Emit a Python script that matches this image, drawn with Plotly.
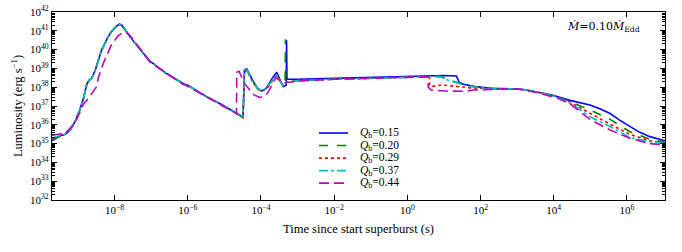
import numpy as np
import plotly.graph_objects as go

# ---- data (log10 of time [s] and log10 of luminosity [erg/s]) ----
labels = ["0.15", "0.20", "0.29", "0.37", "0.44"]
colors = ["#0000ff", "#008000", "#ff0000", "#00bfbf", "#bf00bf"]
dashes = ["solid", "dash", "dot", "dashdot", "10px,5px"]

x_tick_exp = [-8, -6, -4, -2, 0, 2, 4, 6]
x_tick_text = ["10<sup>−8</sup>", "10<sup>−6</sup>", "10<sup>−4</sup>", "10<sup>−2</sup>",
               "10<sup>0</sup>", "10<sup>2</sup>", "10<sup>4</sup>", "10<sup>6</sup>"]
y_tick_exp = list(range(32, 43))
y_tick_text = [f"10<sup>{e}</sup>" for e in y_tick_exp]

# shared rise/decay (Q_b = 0.15 ... 0.37)
early_logt = [-9.71, -9.5, -9.35, -9.2, -9.08, -8.95, -8.85, -8.76, -8.7, -8.62,
              -8.52, -8.44, -8.36, -8.2, -8.08, -7.95, -7.87, -7.8, -7.7, -7.58,
              -7.3, -7.04, -6.6, -6.13, -6.0, -5.49, -5.0, -4.5]
early_logL = [35.25, 35.4, 35.5, 35.75, 36.17, 36.8, 37.4, 38.15, 38.35, 38.5,
              38.95, 39.45, 39.95, 40.6, 40.98, 41.25, 41.35, 41.3, 41.0, 40.69,
              40.0, 39.4, 38.75, 38.2, 38.1, 37.5, 37.0, 36.42]
start_logL = [35.15, 35.2, 35.25, 35.3]

# second-burst region for each Q_b
mid_logt = {
    "0.15": [-4.49, -4.45, -4.39, -4.25, -4.1, -3.98, -3.85, -3.7, -3.57, -3.47, -3.39, -3.31, -3.30, -3.29, -3.25, -3.0],
    "0.20": [-4.49, -4.45, -4.39, -4.25, -4.1, -3.98, -3.85, -3.7, -3.57, -3.47, -3.39, -3.34, -3.33, -3.32, -3.25, -3.0],
    "0.29": [-4.49, -4.45, -4.39, -4.25, -4.1, -3.98, -3.85, -3.7, -3.57, -3.47, -3.39, -3.3, -3.0],
    "0.37": [-4.49, -4.45, -4.39, -4.25, -4.1, -3.98, -3.85, -3.7, -3.57, -3.47, -3.39, -3.3, -3.0],
    "0.44": [-4.67, -4.66, -4.6, -4.45, -4.2, -4.03, -3.85, -3.7, -3.6, -3.5, -3.4, -3.3, -3.0],
}
mid_logL = {
    "0.15": [36.4, 38.9, 38.97, 38.45, 37.95, 37.8, 37.95, 38.45, 38.8, 38.35, 38.03, 38.1, 40.5, 38.45, 38.42, 38.42],
    "0.20": [36.4, 38.85, 38.93, 38.4, 37.95, 37.8, 37.95, 38.35, 38.65, 38.3, 38.05, 38.1, 40.55, 38.3, 38.3, 38.35],
    "0.29": [36.4, 38.8, 38.9, 38.35, 37.9, 37.78, 37.9, 38.3, 38.62, 38.3, 38.1, 38.25, 38.35],
    "0.37": [36.45, 38.85, 38.92, 38.4, 37.92, 37.8, 37.95, 38.35, 38.65, 38.3, 38.08, 38.25, 38.35],
    "0.44": [36.6, 38.8, 38.85, 38.2, 37.6, 37.45, 37.6, 38.1, 38.5, 38.4, 38.2, 38.25, 38.33],
}

# early phase for Q_b = 0.44
m_early_logt = [-9.71, -9.35, -9.08, -8.95, -8.85, -8.7, -8.62, -8.5, -8.44, -8.3,
                -8.1, -7.9, -7.72, -7.6, -7.4, -7.04, -6.13, -6.0, -5.0, -4.68]
m_early_logL = [35.45, 35.55, 36.1, 36.7, 37.1, 37.45, 37.65, 38.0, 38.55, 39.3,
                40.2, 40.75, 40.95, 40.8, 40.3, 39.35, 38.15, 38.05, 36.95, 36.6]

# plateau and cooling tail
late_logt = {
    "0.15": [-2.0, -1.0, 0.0, 0.5, 1.0, 1.34, 1.42, 1.55, 1.84, 2.3, 2.7, 3.07, 3.4, 3.62, 4.0, 4.44, 4.99, 5.26, 5.54, 5.8, 6.08, 6.35, 6.63, 7.04],
    "0.20": [-2.0, -1.0, 0.0, 0.5, 0.9, 1.05, 1.3, 1.6, 2.0, 2.3, 2.7, 3.07, 3.4, 3.62, 4.0, 4.44, 4.99, 5.54, 6.08, 6.63, 7.04],
    "0.29": [-2.0, -1.0, 0.0, 0.5, 0.6, 0.61, 0.7, 0.93, 1.3, 1.75, 2.3, 2.7, 3.07, 3.4, 3.62, 4.0, 4.44, 4.99, 5.54, 6.08, 6.63, 7.04],
    "0.37": [-2.0, -1.0, 0.0, 0.5, 0.9, 1.1, 1.55, 1.95, 2.3, 2.7, 3.07, 3.4, 3.62, 4.0, 4.44, 4.99, 5.54, 6.08, 6.63, 7.04],
    "0.44": [-2.0, -1.0, 0.0, 0.5, 0.56, 0.57, 0.65, 1.0, 1.6, 1.8, 2.3, 2.7, 3.07, 3.4, 3.62, 3.9, 4.1, 4.44, 4.99, 5.54, 6.08, 6.63, 7.04],
}
late_logL = {
    "0.15": [38.47, 38.52, 38.57, 38.6, 38.62, 38.6, 38.25, 38.15, 38.03, 37.94, 37.92, 37.9, 37.8, 37.71, 37.56, 37.3, 37.05, 36.85, 36.6, 36.25, 35.9, 35.6, 35.37, 35.15],
    "0.20": [38.42, 38.48, 38.54, 38.57, 38.57, 38.45, 38.3, 38.1, 37.97, 37.93, 37.92, 37.9, 37.8, 37.71, 37.55, 37.24, 36.79, 36.29, 35.63, 35.23, 35.07],
    "0.29": [38.42, 38.48, 38.54, 38.56, 38.56, 38.08, 38.05, 38.12, 38.05, 37.96, 37.92, 37.92, 37.9, 37.8, 37.71, 37.54, 37.2, 36.6, 36.03, 35.49, 35.15, 35.0],
    "0.37": [38.42, 38.48, 38.54, 38.57, 38.57, 38.38, 38.12, 37.97, 37.92, 37.92, 37.9, 37.8, 37.71, 37.53, 37.17, 36.43, 35.9, 35.33, 35.1, 35.0],
    "0.44": [38.42, 38.48, 38.54, 38.56, 38.56, 38.0, 37.85, 37.8, 37.78, 37.85, 37.9, 37.91, 37.89, 37.78, 37.68, 37.52, 37.42, 37.12, 36.29, 35.72, 35.28, 35.0, 34.93],
}

fig = go.Figure()
serif = "Liberation Serif, DejaVu Serif, serif"

for i, q in enumerate(labels):
    if q == "0.44":
        lt = m_early_logt + mid_logt[q] + late_logt[q]
        lL = m_early_logL + mid_logL[q] + late_logL[q]
    else:
        lt = early_logt + mid_logt[q] + late_logt[q]
        lL = [start_logL[i]] + early_logL[1:] + mid_logL[q] + late_logL[q]
    fig.add_trace(go.Scatter(
        x=10 ** np.array(lt), y=10 ** np.array(lL), mode="lines",
        name=f"<i>Q</i><sub>b</sub>=" + q, showlegend=False,
        line=dict(color=colors[i], width=1.6, dash=dashes[i]),
    ))

# compact legend (matplotlib-style row spacing)
leg_x0, leg_x1, leg_tx = 0.4356, 0.4829, 0.499
leg_y_top, leg_dy = 0.356, 0.0665
for i, q in enumerate(labels):
    yy = leg_y_top - i * leg_dy
    fig.add_shape(type="line", xref="paper", yref="paper", x0=leg_x0, x1=leg_x1, y0=yy, y1=yy,
                  line=dict(color=colors[i], width=1.6, dash=dashes[i]))
    fig.add_annotation(text="<i>Q</i><sub>b</sub>=" + q, xref="paper", yref="paper",
                       x=leg_tx, y=yy, xanchor="left", yanchor="middle", showarrow=False,
                       font=dict(family=serif, size=11.5, color="black"))

axis_common = dict(
    type="log", showgrid=False, zeroline=False, showline=True, linecolor="black",
    linewidth=1.2, mirror="ticks", ticks="inside", tickcolor="black", ticklen=5,
    automargin=False, tickfont=dict(family=serif, size=11, color="black"),
)
fig.update_xaxes(**axis_common, range=[-9.71, 7.04], tickmode="array",
                 tickvals=[10.0 ** e for e in x_tick_exp], ticktext=x_tick_text,
                 title=dict(text="Time since start superburst (s)",
                            font=dict(family=serif, size=12.5, color="black"), standoff=8))
fig.update_yaxes(**axis_common, range=[32, 42], tickmode="array",
                 tickvals=[10.0 ** e for e in y_tick_exp], ticktext=y_tick_text,
                 minor=dict(ticks="inside", ticklen=2.5, tickcolor="black", showgrid=False,
                            dtick="D1"),
                 title=dict(text="Luminosity (erg s<sup>−1</sup>)",
                            font=dict(family=serif, size=12.5, color="black"), standoff=4))

fig.add_annotation(text="<i>\u1E40</i>=0.10<i>\u1E40</i><sub>Edd</sub>", xref="paper", yref="paper",
                   x=0.962, y=0.925, xanchor="right", yanchor="middle", showarrow=False,
                   font=dict(family="DejaVu Serif, serif", size=11, color="black"))

fig.update_layout(
    width=682, height=252, margin=dict(l=52, r=17, t=12, b=52),
    paper_bgcolor="white", plot_bgcolor="white",
    showlegend=False,
)

# remove the browser's default 8px page margin so the figure fills the window
fig.write_html("out.html", config={"displayModeBar": False},
               post_script="document.body.style.margin='0';document.body.style.overflow='hidden';")
